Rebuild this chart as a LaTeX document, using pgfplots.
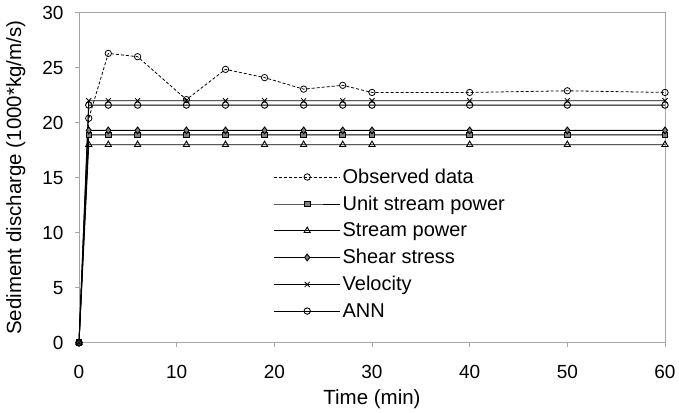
\documentclass[border=0pt]{standalone}
\usepackage{fontspec}
\setmainfont{Liberation Sans}
\usepackage{pgfplots}
\pgfplotsset{compat=1.18}
\begin{document}
\begin{tikzpicture}
\begin{axis}[
  scale only axis,
  width=586pt, height=330pt,
  xmin=0, xmax=60, ymin=0, ymax=30,
  xtick={0,10,...,60}, ytick={0,5,...,30},
  /pgf/number format/assume math mode=true,
  tick label style={font=\fontsize{19}{22}\selectfont},
  label style={font=\fontsize{20.5}{24}\selectfont},
  axis line style={gray!70, line width=0.6pt},
  tick style={gray!70, line width=0.6pt},
  tick align=outside, major tick length=4pt,
  xtick pos=bottom, ytick pos=left,
  xticklabel style={yshift=-15pt},
  yticklabel style={xshift=-8pt},
  xlabel={Time (min)},
  xlabel style={yshift=-4pt},
  ylabel={Sediment discharge (1000*kg/m/s)},
  ylabel style={yshift=10pt},
  legend style={at={(0.332,0.533)}, anchor=north west, draw=none, fill=none,
    font=\fontsize{20}{23}\selectfont, row sep=7pt, inner sep=0pt},
  legend cell align=left,
  legend image code/.code={
    \draw[mark repeat=2,mark phase=2,#1] plot coordinates {(0pt,0pt) (33pt,0pt) (66pt,0pt)};
  },
  every axis plot/.append style={black, line width=0.9pt, mark size=3.2pt,
    mark options={solid, line width=0.8pt}},
]
\addplot[densely dashed, line width=0.8pt, mark=o, mark options={solid, fill=white}] coordinates {
(0,0) (1,20.4) (3,26.3) (6,26.0) (11,22.1) (15,24.85) (19,24.1) (23,23.05) (27,23.4) (30,22.75) (40,22.75) (50,22.9) (60,22.75)};
\addlegendentry{Observed data}
\addplot[mark=square*, mark size=2.8pt, mark options={fill=gray}] coordinates {
(0,0) (1,18.9) (3,18.9) (6,18.9) (11,18.9) (15,18.9) (19,18.9) (23,18.9) (27,18.9) (30,18.9) (40,18.9) (50,18.9) (60,18.9)};
\addlegendentry{Unit stream power}
\addplot[mark=triangle, mark size=3.6pt, mark options={fill=white}] coordinates {
(0,0) (1,18.0) (3,18.0) (6,18.0) (11,18.0) (15,18.0) (19,18.0) (23,18.0) (27,18.0) (30,18.0) (40,18.0) (50,18.0) (60,18.0)};
\addlegendentry{Stream power}
\addplot[mark=diamond*, mark size=3.4pt, mark options={fill=gray}] coordinates {
(0,0) (1,19.3) (3,19.3) (6,19.3) (11,19.3) (15,19.3) (19,19.3) (23,19.3) (27,19.3) (30,19.3) (40,19.3) (50,19.3) (60,19.3)};
\addlegendentry{Shear stress}
\addplot[mark=x, mark size=3.6pt] coordinates {
(0,0) (1,22.0) (3,22.0) (6,22.0) (11,22.0) (15,22.0) (19,22.0) (23,22.0) (27,22.0) (30,22.0) (40,22.0) (50,22.0) (60,22.0)};
\addlegendentry{Velocity}
\addplot[mark=o, mark options={fill=white}] coordinates {
(0,0) (1,21.6) (3,21.6) (6,21.6) (11,21.6) (15,21.6) (19,21.6) (23,21.6) (27,21.6) (30,21.6) (40,21.6) (50,21.6) (60,21.6)};
\addlegendentry{ANN}
\end{axis}
\path ([xshift=-79pt,yshift=-70pt]current axis.south west) ([xshift=14pt,yshift=12.7pt]current axis.north east);
\end{tikzpicture}
\end{document}
